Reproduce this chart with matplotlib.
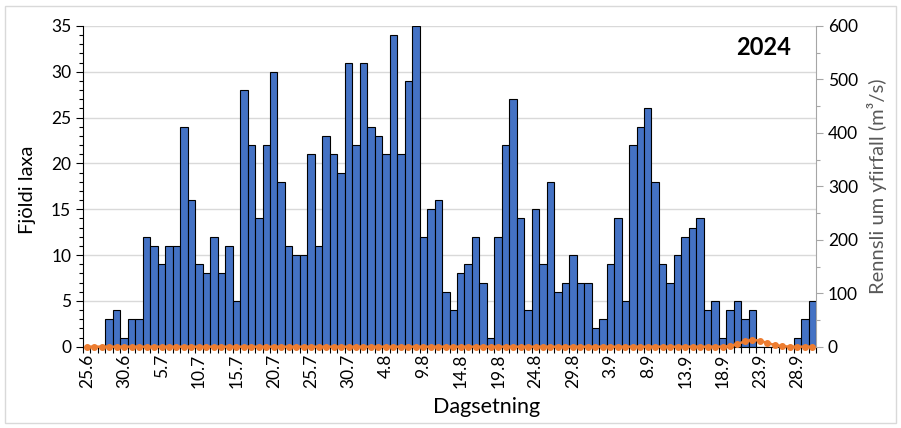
import matplotlib
matplotlib.use("Agg")
import matplotlib.pyplot as plt
from matplotlib.patches import Rectangle
from matplotlib.ticker import MultipleLocator

plt.rcParams['font.family'] = ['Lato', 'DejaVu Sans']

# Daily counts 25.6 - 30.9 2024
fish = [0, 0, 0, 3, 4, 1, 3, 3, 12, 11,
        9, 11, 11, 24, 16, 9, 8, 12, 8, 11,
        5, 28, 22, 14, 22, 30, 18, 11, 10, 10,
        21, 11, 23, 21, 19, 31, 22, 31, 24, 23,
        21, 34, 21, 29, 35, 12, 15, 16, 6, 4,
        8, 9, 12, 7, 1, 12, 22, 27, 14, 4,
        15, 9, 18, 6, 7, 10, 7, 7, 2, 3,
        9, 14, 5, 22, 24, 26, 18, 9, 7, 10,
        12, 13, 14, 4, 5, 1, 4, 5, 3, 4,
        0, 0, 0, 0, 0, 1, 3, 5]

flow = [0, 0, 0, 0, 0, 0, 0, 0, 0, 0,
        0, 0, 0, 0, 0, 0, 0, 0, 0, 0,
        0, 0, 0, 0, 0, 0, 0, 0, 0, 0,
        0, 0, 0, 0, 0, 0, 0, 0, 0, 0,
        0, 0, 0, 0, 0, 0, 0, 0, 0, 0,
        0, 0, 0, 0, 0, 0, 0, 0, 0, 0,
        0, 0, 0, 0, 0, 0, 0, 0, 0, 0,
        0, 0, 0, 0, 0, 0, 0, 0, 0, 0,
        0, 0, 0, 0, 0, 0, 1, 5, 10, 13,
        11, 7, 3, 1, 0, 0, 0, 0]

tick_labels = ['25.6', '30.6', '5.7', '10.7', '15.7', '20.7', '25.7', '30.7',
               '4.8', '9.8', '14.8', '19.8', '24.8', '29.8', '3.9', '8.9',
               '13.9', '18.9', '23.9', '28.9']

fig = plt.figure(figsize=(9.01, 4.28), dpi=100)
ax = fig.add_axes([0.0921, 0.19, 0.8136, 0.7493])

x = list(range(len(fish)))
ax.bar(x, fish, width=1.0, color='#4472C4', edgecolor='black', linewidth=0.8, zorder=2)
ax.set_xlim(-0.5, len(fish) - 0.5)
ax.set_ylim(0, 35)
ax.yaxis.set_major_locator(MultipleLocator(5))
ax.yaxis.set_minor_locator(MultipleLocator(1))
ax.grid(axis='y', which='major', color='#D9D9D9', linewidth=1)
ax.set_axisbelow(True)

ax.set_xticks(range(0, len(fish), 5))
ax.set_xticklabels(tick_labels, rotation=90)
ax.set_xticks([i - 0.5 for i in range(len(fish) + 1)], minor=True)
ax.tick_params(axis='x', which='major', length=0, labelsize=12.5, pad=5)
ax.tick_params(axis='x', which='minor', length=4, width=0.8)
ax.tick_params(axis='y', which='major', length=5, width=0.8, labelsize=12.5)
ax.tick_params(axis='y', which='minor', length=3, width=0.8)
ax.spines['top'].set_visible(False)
ax.spines['right'].set_visible(False)
ax.set_ylabel('Fjöldi laxa', fontsize=14.5)
ax.yaxis.set_label_coords(-0.064, 0.49)
ax.set_xlabel('Dagsetning', fontsize=15.5)
ax.xaxis.set_label_coords(0.551, -0.158)

ax2 = ax.twinx()
ax2.plot(x, flow, color='#ED7D31', marker='o', markersize=4, linewidth=1.8, clip_on=False)
ax2.set_ylim(0, 600)
ax2.yaxis.set_major_locator(MultipleLocator(100))
ax2.yaxis.set_minor_locator(MultipleLocator(50))
ax2.tick_params(axis='y', which='major', length=5, width=0.8, color='#A6A6A6', labelsize=12.5)
ax2.tick_params(axis='y', which='minor', length=3, width=0.8, color='#A6A6A6')
for s in ['top', 'left', 'bottom']:
    ax2.spines[s].set_visible(False)
ax2.spines['right'].set_color('#A6A6A6')
ax2.set_ylabel('Rennsli um yfirfall (m³/s)', fontsize=14.5, color='#595959')
ax2.yaxis.set_label_coords(1.070, 0.5)

ax.text(0.928, 0.934, '2024', transform=ax.transAxes, ha='center', va='center',
        fontsize=17, fontweight='bold')

fig.patches.append(Rectangle((5 / 901, 5 / 428), 891 / 901, 417 / 428, transform=fig.transFigure,
                             fill=False, edgecolor='#D9D9D9', linewidth=1))

fig.savefig('out.png', dpi=100)
